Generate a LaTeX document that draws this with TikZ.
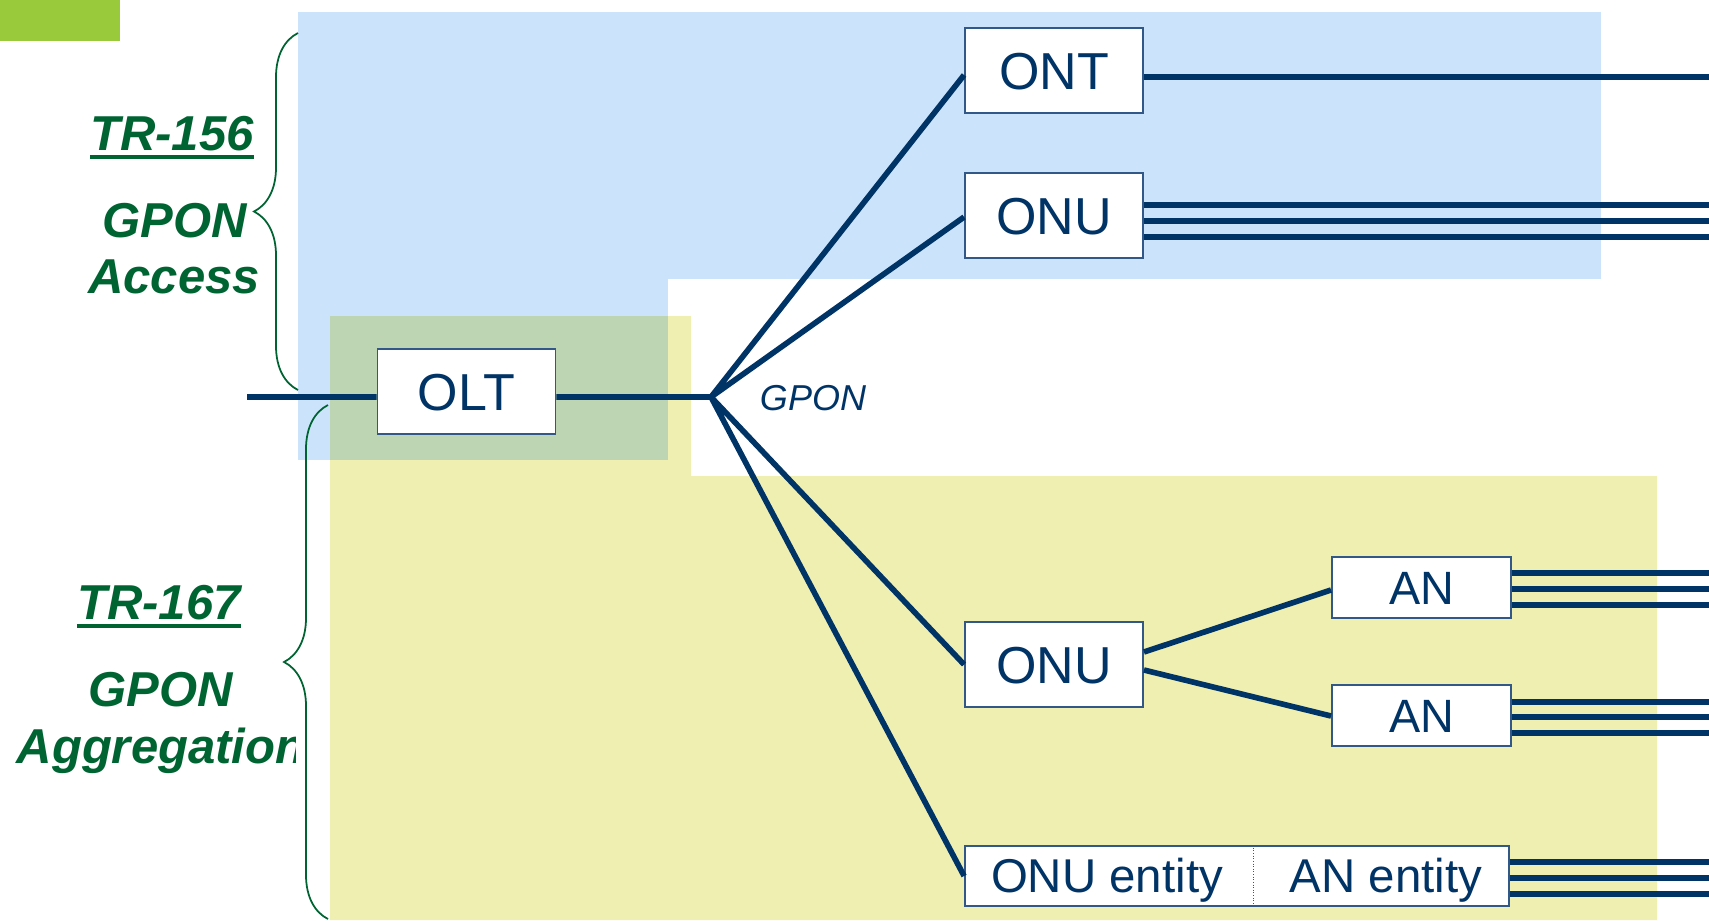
\documentclass[tikz,border=0pt]{standalone}
\usepackage{fontspec}
\setmainfont{Liberation Sans}
\usepackage{tikz}
\usetikzlibrary{positioning, calc, decorations.pathreplacing}

\definecolor{linkblue}{RGB}{0,51,102}
\definecolor{boxline}{RGB}{50,88,135}
\definecolor{accessblue}{RGB}{204,228,251}
\definecolor{aggryellow}{RGB}{239,239,178}
\definecolor{overlapgreen}{RGB}{189,213,179}
\definecolor{trgreen}{RGB}{0,100,50}
\definecolor{cornergreen}{RGB}{153,202,60}

\tikzset{
  box/.style={draw=boxline, line width=1.1pt, fill=white, inner sep=0pt, text=linkblue},
  bigbox/.style={box, minimum width=3.56cm, minimum height=1.70cm,
    font=\fontsize{29.6}{32}\selectfont, text height=21.2pt, text depth=0pt},
  smallbox/.style={box, minimum width=3.58cm, minimum height=1.22cm,
    font=\fontsize{26.6}{28}\selectfont, text height=19pt, text depth=0pt},
  entitytext/.style={text=linkblue, font=\fontsize{27}{28}\selectfont,
    text height=19.3pt, text depth=0pt, inner sep=0pt},
  fibre/.style={draw=linkblue, line width=3.2pt},
  trlabel/.style={text=trgreen, inner sep=0pt, anchor=base,
    font=\fontsize{27.9}{30}\selectfont\bfseries\itshape},
  bracket/.style={draw=trgreen, line width=1pt, decorate,
    decoration={brace, amplitude=0.88cm}}
}

\begin{document}
\begin{tikzpicture}[x=0.02cm, y=-0.02cm]
    \useasboundingbox (0,0) rectangle (1709,920);

    % Background areas
    \fill[cornergreen] (0,0) rectangle (120,41);
    \fill[accessblue] (298,12) rectangle (1601,279);
    \fill[accessblue] (298,279) rectangle (668,460);
    \fill[aggryellow] (330,316) -- (691,316) -- (691,476) -- (1657,476)
        -- (1657,920) -- (330,920) -- cycle;
    \fill[overlapgreen] (330,316) rectangle (668,460);

    % Braces
    \draw[bracket] (298,390) -- (298,33);
    \draw[bracket] (328,919) -- (328,405);

    % Recommendation labels
    \node[trlabel] (tra) at (172,150) {TR-156};
    \node[trlabel] (gpa) at (175,237) {GPON};
    \node[trlabel] (acc) at (174,293) {Access};
    \node[trlabel] (trb) at (159,619) {TR-167};
    \node[trlabel] (gpb) at (161,706) {GPON};
    \begin{scope}
        \clip (0,700) rectangle (295,800);
        \node[trlabel] (agg) at (161,763) {Aggregation};
    \end{scope}
    \draw[trgreen, line width=2.3pt] ($(tra.base west)+(0,7)$) -- ($(tra.base east)+(0,7)$);
    \draw[trgreen, line width=2.3pt] ($(trb.base west)+(0,7)$) -- ($(trb.base east)+(0,7)$);

    % Equipment boxes
    \node[bigbox] (olt) at (466.5,391.5) {OLT};
    \node[bigbox] (ont) at (1054,70.5) {ONT};
    \node[bigbox] (onua) at (1054,215.5) {ONU};
    \node[bigbox] (onub) at (1054,664.5) {ONU};
    \node[smallbox] (ana) at (1421.5,587.5) {AN};
    \node[smallbox] (anb) at (1421.5,715.5) {AN};
    \node[box, minimum width=10.88cm, minimum height=1.20cm] (ent) at (1237,876) {};
    \node[entitytext] (onuent) at (1107,876) {ONU entity};
    \node[entitytext] (anent) at (1386,876) {AN entity};
    \coordinate (divide) at (1253,0);
    \draw[boxline, densely dotted, line width=0.5pt] (ent.north -| divide) -- (ent.south -| divide);

    % Splitter and feeder
    \coordinate (feed) at (247,397);
    \coordinate (split) at (711,397);
    \coordinate (edge) at (1709,0);
    \draw[fibre] (feed) -- ($(olt.west)+(0,5.5)$);
    \draw[fibre] ($(olt.east)+(0,5.5)$) -- (split);
    \node[text=linkblue, inner sep=0pt, anchor=base, font=\fontsize{20.5}{22}\selectfont\itshape]
        (gpon) at (813,410) {GPON};

    % Drop fibres
    \draw[fibre, line join=round] ($(ont.west)+(0,4.5)$) -- (split) -- ($(onua.west)+(0,1.5)$);
    \draw[fibre, line join=round] (onub.west) -- (split) -- (ent.west);
    \draw[fibre] ($(onub.east)+(0,-12.5)$) -- ($(ana.west)+(0,2.5)$);
    \draw[fibre] ($(onub.east)+(0,5.5)$) -- ($(anb.west)+(0,0.5)$);

    % User side ports
    \draw[fibre] ($(ont.east)+(0,6.5)$) coordinate (p) -- (p -| edge);
    \foreach \dy in {-10.5,5.5,21.5}
        \draw[fibre] ($(onua.east)+(0,\dy)$) coordinate (p) -- (p -| edge);
    \foreach \dy in {-14.5,1.5,17.5}
        \draw[fibre] ($(ana.east)+(0,\dy)$) coordinate (p) -- (p -| edge);
    \foreach \dy in {-13.5,1.5,17.5}
        \draw[fibre] ($(anb.east)+(0,\dy)$) coordinate (p) -- (p -| edge);
    \foreach \dy in {-14,2,18}
        \draw[fibre] ($(ent.east)+(0,\dy)$) coordinate (p) -- (p -| edge);
\end{tikzpicture}
\end{document}
